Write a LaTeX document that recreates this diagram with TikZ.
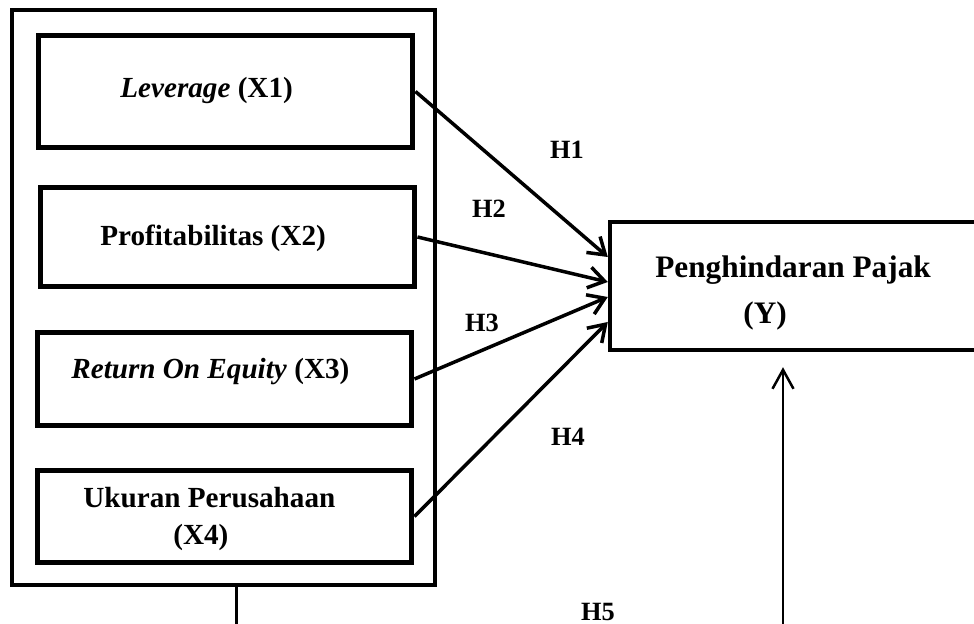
\documentclass[tikz,border=0pt]{standalone}
\usepackage{fontspec}
\setmainfont{Liberation Serif}
\usepackage{tikz}
\usetikzlibrary{arrows.meta, positioning, calc}

\begin{document}
\begin{tikzpicture}[
    x=0.02cm, y=-0.02cm,
    framebox/.style={
        rectangle,
        draw=black,
        line width=0.095cm,
        minimum width=8.46cm,
        minimum height=11.5cm,
        inner sep=0pt
    },
    varbox/.style={
        rectangle,
        draw=black,
        line width=0.1cm,
        minimum width=7.5cm,
        inner sep=0pt
    },
    depbox/.style={
        rectangle,
        draw=black,
        line width=0.09cm,
        minimum width=8cm,
        minimum height=2.56cm,
        inner sep=0pt
    },
    vartext/.style={
        anchor=west,
        inner sep=0pt,
        align=left,
        font=\fontsize{16.6}{21.6}\selectfont\bfseries
    },
    deptext/.style={
        anchor=west,
        inner sep=0pt,
        align=left,
        font=\fontsize{17.8}{26.7}\selectfont\bfseries
    },
    hyp/.style={
        inner sep=0pt,
        font=\fontsize{15}{18}\selectfont\bfseries
    },
    arrow/.style={
        -{Straight Barb[length=0.32cm, width=0.42cm]},
        line width=0.07cm,
        draw=black
    },
    uparrow/.style={
        -{Straight Barb[length=0.38cm, width=0.42cm]},
        line width=0.05cm,
        draw=black
    }
]
    \useasboundingbox (0,0) rectangle (974,624);

    % Outer frame holding the independent variables
    \node[framebox] (frame) at (223.5,297.5) {};

    % Independent variables
    \node[varbox, minimum height=2.26cm] (lev) at (225.5,91.5) {};
    \node[varbox, minimum height=2.0cm] (prof) at (227.5,237) {};
    \node[varbox, minimum height=1.88cm] (roe) at (224.5,379) {};
    \node[varbox, minimum height=1.86cm] (size) at (224.5,516.5) {};

    \node[vartext] (levtext) at (120,90) {\textit{Leverage} (X1)};
    \node[vartext] (proftext) at (100,238) {Profitabilitas (X2)};
    \node[vartext] (roetext) at (71,372) {\textit{Return On Equity} (X3)};
    \node[vartext] (sizetext) at (83,519) {Ukuran Perusahaan\\\hspace*{1.8cm}(X4)};

    % Dependent variable
    \node[depbox] (pajak) at (810,286) {};
    \node[deptext] (pajaktext) at (655,293) {Penghindaran Pajak\\\hspace*{1.76cm}(Y)};

    % Hypothesis labels
    \node[hyp] (h1) at (567,150) {H1};
    \node[hyp] (h2) at (489,209) {H2};
    \node[hyp] (h3) at (482,323) {H3};
    \node[hyp] (h4) at (568,437) {H4};
    \node[hyp] (h5) at (598,612) {H5};

    % Arrows
    \draw[arrow] (lev.east) -- ([yshift=0.58cm]pajak.west);
    \draw[arrow] (prof.east) -- ([yshift=0.08cm]pajak.west);
    \draw[arrow] (roe.east) -- ([yshift=-0.22cm]pajak.west);
    \draw[arrow] (size.east) -- ([yshift=-0.72cm]pajak.west);

    \coordinate (h5a) at (236,640);
    \coordinate (h5b) at (783,640);
    \draw[line width=0.06cm] (frame.south -| h5a) -- (h5a);
    \draw[uparrow, shorten >=0.3cm] (h5b) -- (h5b |- pajak.south);

\end{tikzpicture}
\end{document}
